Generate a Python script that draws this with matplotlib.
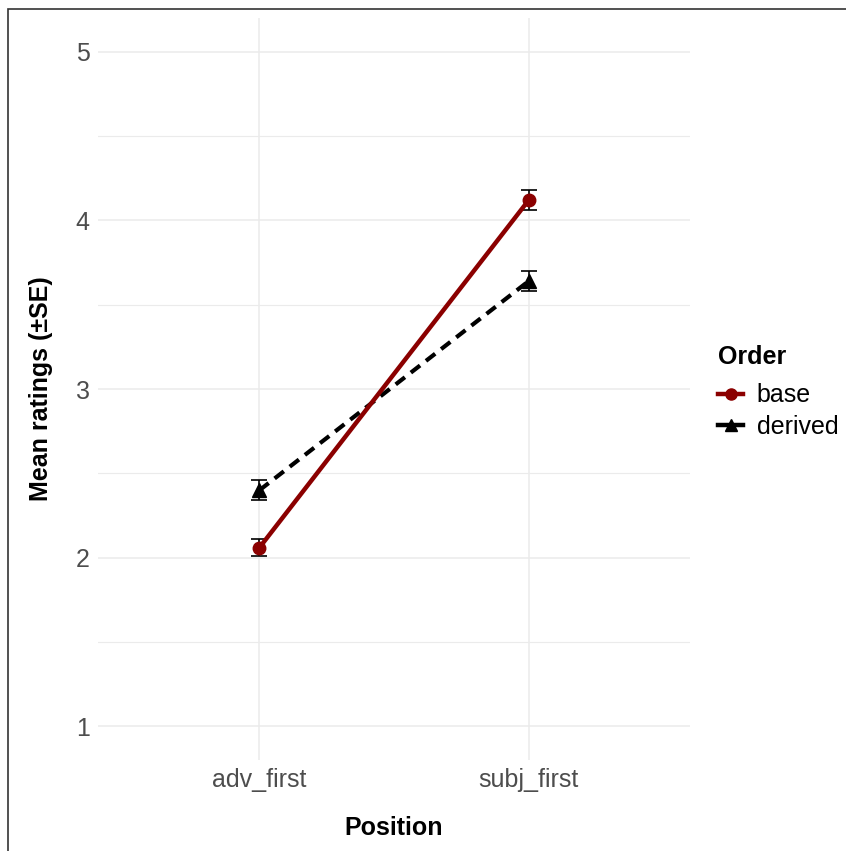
import matplotlib.pyplot as plt
import matplotlib.patches as patches
from matplotlib.lines import Line2D
import numpy as np

plt.rcParams['font.family'] = ['Liberation Sans', 'DejaVu Sans']

# Data
positions = ['adv_first', 'subj_first']
base_means = [2.06, 4.12]
base_se = [0.05, 0.06]
derived_means = [2.40, 3.64]
derived_se = [0.06, 0.06]

fig = plt.figure(figsize=(8.46, 8.51), dpi=100)
ax = fig.add_axes([0.1158, 0.1069, 0.700, 0.8719])

x = np.arange(1, len(positions) + 1)

# grid like theme_minimal
ax.set_yticks([1, 2, 3, 4, 5])
ax.set_yticks([1.5, 2.5, 3.5, 4.5], minor=True)
ax.set_xticks(x)
ax.set_xticklabels(positions)
ax.grid(which='major', color='#ebebeb', linewidth=1.1)
ax.grid(which='minor', axis='y', color='#ebebeb', linewidth=0.8)
ax.set_axisbelow(True)
ax.tick_params(which='both', length=0, labelsize=18, colors='#4d4d4d', pad=6)
for s in ax.spines.values():
    s.set_visible(False)

ax.errorbar(x, derived_means, yerr=derived_se, color='black', linestyle='none',
            capsize=6, elinewidth=1.2, capthick=1.2, zorder=3)
ax.errorbar(x, base_means, yerr=base_se, color='black', linestyle='none',
            capsize=6, elinewidth=1.2, capthick=1.2, zorder=3)
ax.plot(x, derived_means, color='black', linestyle=(0, (2.8, 1.8)), linewidth=3,
        marker='^', markersize=9.5, zorder=4)
ax.plot(x, base_means, color='#8B0000', linestyle='-', linewidth=3.2,
        marker='o', markersize=9, zorder=5)

ax.set_xlim(0.4, 2.6)
ax.set_ylim(0.8, 5.2)
ax.set_xlabel('Position', fontsize=18, fontweight='bold', labelpad=17)
ax.set_ylabel('Mean ratings (±SE)', fontsize=18, fontweight='bold', labelpad=16)

handles = [
    Line2D([], [], color='#8B0000', linewidth=3.2, marker='o', markersize=8),
    Line2D([], [], color='black', linewidth=3.2, marker='^', markersize=9),
]
leg = fig.legend(handles, ['base', 'derived'], title='Order',
                 loc='upper left', bbox_to_anchor=(0.843, 0.6),
                 borderaxespad=0, frameon=False, fontsize=18, title_fontsize=18,
                 handlelength=1.0, handletextpad=0.55, labelspacing=0.3,
                 borderpad=0.2)
leg.get_title().set_fontweight('bold')
leg._legend_box.align = 'left'
leg._legend_box.sep = 10

# outer border
fig.patches.append(patches.Rectangle((8 / 846, -0.1), 1.2, 1 - 9 / 851 + 0.1,
                                     transform=fig.transFigure, fill=False,
                                     edgecolor='#333333', linewidth=1.2))

fig.savefig('out.png', dpi=100)
